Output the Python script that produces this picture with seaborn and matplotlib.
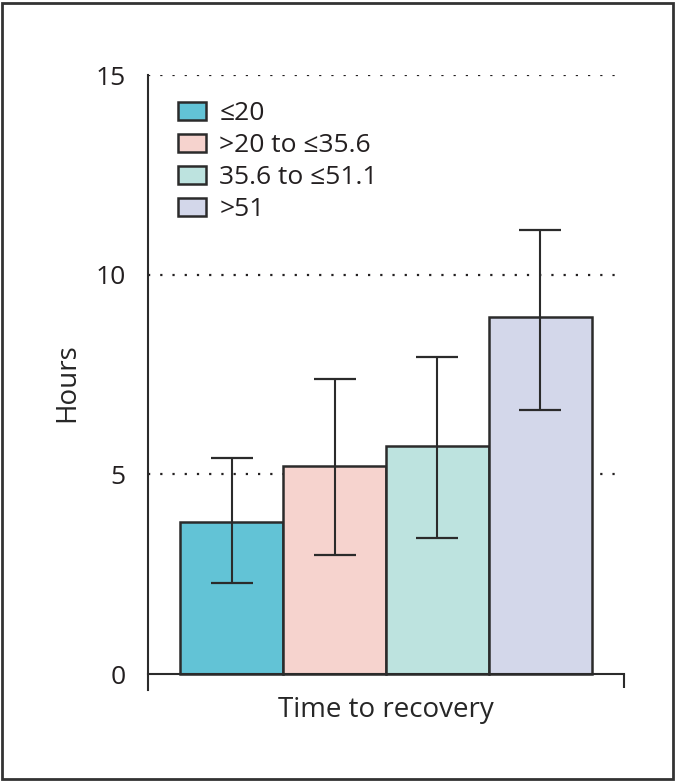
import numpy as np
import pandas as pd
import matplotlib
matplotlib.use("Agg")
import matplotlib.pyplot as plt
from matplotlib.patches import Rectangle
import seaborn as sns

# Dados
groups = ["≤20", ">20 to ≤35.6", "35.6 to ≤51.1", ">51"]
hours = [3.8, 5.2, 5.7, 8.95]
err_low = [2.27, 2.97, 3.4, 6.6]
err_high = [5.4, 7.4, 7.93, 11.12]
colors = ["#62c3d6", "#f6d3ce", "#bde3df", "#d3d7ea"]
y_ticks = [0, 5, 10, 15]

sns.set_style("white")
plt.rcParams["font.family"] = ["Open Sans", "DejaVu Sans"]
plt.rcParams["text.color"] = "#231f20"

df = pd.DataFrame({"group": groups, "hours": hours})

fig = plt.figure(figsize=(6.76, 7.82), dpi=100)
ax = fig.add_axes([148 / 676, 1 - 690 / 782, 476 / 676, 615 / 782])

# grade pontilhada atras das barras
for t in y_ticks[1:]:
    ax.axhline(t, color="#231f20", lw=1.6, ls=(0, (1, 4.5)), zorder=0)

sns.barplot(data=df, x="group", y="hours", hue="group", palette=colors,
            dodge=False, width=1.0, errorbar=None, legend=True, saturation=1,
            edgecolor="#2b2b2b", linewidth=1.8, ax=ax, zorder=2)

xpos = np.arange(len(groups))
ylo = np.array(hours) - np.array(err_low)
yhi = np.array(err_high) - np.array(hours)
ax.errorbar(xpos, hours, yerr=[ylo, yhi], fmt="none", ecolor="#2b2b2b",
            elinewidth=1.5, capsize=15, capthick=1.6, zorder=3)

ax.set_xlim(-0.811, 3.811)
ax.set_ylim(-0.4, 15)
ax.set_yticks(y_ticks)
ax.set_xticks([3.808])
ax.set_xticklabels([])
ax.tick_params(axis="y", length=10, width=1.5, color="#2b2b2b",
               labelsize=19, pad=6, labelcolor="#231f20")
ax.tick_params(axis="x", length=10, width=1.5, color="#2b2b2b", direction="out",
               bottom=True)

for side in ["top", "right"]:
    ax.spines[side].set_visible(False)
ax.spines["bottom"].set_position(("data", 0))
ax.spines["left"].set_color("#2b2b2b")
ax.spines["bottom"].set_color("#2b2b2b")
ax.spines["left"].set_linewidth(1.5)
ax.spines["bottom"].set_linewidth(1.5)

ax.set_ylabel("Hours", fontsize=20, labelpad=10)
ax.set_xlabel("Time to recovery", fontsize=20, labelpad=2)

handles, labels = ax.get_legend_handles_labels()
ax.legend(handles, labels, loc="upper left", bbox_to_anchor=(0.063, 0.957),
          frameon=False, fontsize=19, borderpad=0, borderaxespad=0,
          handlelength=1.06, handleheight=0.68, handletextpad=0.5,
          labelspacing=0.26)

# moldura externa
fig.patches.append(Rectangle((0.003, 0.004), 0.993, 0.992, transform=fig.transFigure,
                             fill=False, edgecolor="#333333", lw=2))

fig.savefig("out.png", dpi=100)
